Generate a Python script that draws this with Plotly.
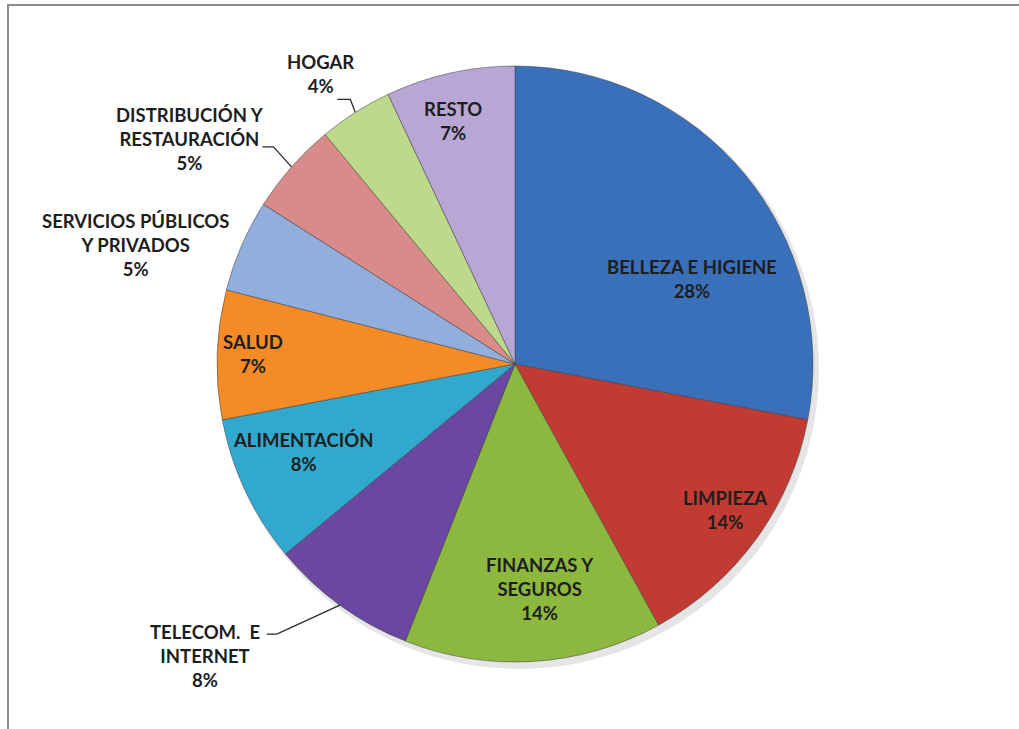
import math
import plotly.graph_objects as go

# ---- data ----
categories = [
    "BELLEZA E HIGIENE",
    "LIMPIEZA",
    "FINANZAS Y<br>SEGUROS",
    "TELECOM.  E<br>INTERNET",
    "ALIMENTACIÓN",
    "SALUD",
    "SERVICIOS PÚBLICOS<br>Y PRIVADOS",
    "DISTRIBUCIÓN Y<br>RESTAURACIÓN",
    "HOGAR",
    "RESTO",
]
shares = [28, 14, 14, 8, 8, 7, 5, 5, 4, 7]

# ---- styles / layout ----
colors = [
    "#3A70BA", "#C23B33", "#8DB83F", "#6A47A1", "#31A9CF",
    "#F58B27", "#91AEDC", "#D98B8A", "#BED88C", "#B8A7D4",
]
W, H = 1019, 729
cx, cy, r = 515, 364, 298
FONT = dict(family="Lato", size=18.5, color="#1E1E1E", weight="bold")

# inside labels: (radial fraction, angle adjustment in degrees)
inside_place = {
    0: (0.66, 14.0),
    1: (0.86, -1.2),
    2: (0.76, -2.7),
    4: (0.77, 2.6),
    5: (0.88, 0.4),
    9: (0.84, -1.7),
}
# outside labels: offsets (px) from the rim point: label centre, elbow, line end
outside_place = {
    3: dict(label=(-135, 51), elbow=(-63, 29), end=(-73, 29)),
    6: dict(label=(-106, -1), elbow=None, end=None),
    7: dict(label=(-101, -28), elbow=(-18, -20), end=(-29, -20)),
    8: dict(label=(-35, -38), elbow=(-5, -13), end=(-18, -13)),
}


def px_to_paper(x, y):
    return x / W, 1 - y / H


def polar(theta_deg, rho):
    t = math.radians(theta_deg)
    return cx + rho * math.sin(t), cy - rho * math.cos(t)


total = sum(shares)
fig = go.Figure(
    go.Pie(
        labels=categories,
        values=shares,
        sort=False,
        direction="clockwise",
        rotation=0,
        marker=dict(colors=colors, line=dict(color="rgba(60,60,60,0.5)", width=1)),
        textinfo="none",
        hoverinfo="label+percent",
        showlegend=False,
        domain=dict(
            x=[(cx - r) / W, (cx + r) / W],
            y=[1 - (cy + r) / H, 1 - (cy - r) / H],
        ),
    )
)

annotations = []
shapes = [
    dict(
        type="rect", xref="paper", yref="paper",
        x0=8 / W, x1=1.05, y0=-0.05, y1=1 - 5 / H,
        line=dict(color="#8C8C8C", width=2),
        fillcolor="rgba(0,0,0,0)", layer="below",
    ),
    # soft drop shadow under the pie
    dict(
        type="circle", xref="paper", yref="paper",
        x0=(cx - r + 2) / W, x1=(cx + r + 6) / W,
        y0=1 - (cy + r + 7) / H, y1=1 - (cy - r + 3) / H,
        line=dict(width=0), fillcolor="rgba(0,0,0,0.10)", layer="below",
    ),
]

cum = 0
for i, (lab, v) in enumerate(zip(categories, shares)):
    mid = 360.0 * (cum + v / 2) / total
    cum += v
    text = f"{lab}<br>{round(100 * v / total)}%"
    if i in inside_place:
        f, dth = inside_place[i]
        x, y = polar(mid + dth, f * r)
    else:
        p = outside_place[i]
        rx, ry = polar(mid, r)
        x, y = rx + p["label"][0], ry + p["label"][1]
        if p["elbow"] is not None:
            pts = [(rx, ry),
                   (rx + p["elbow"][0], ry + p["elbow"][1]),
                   (rx + p["end"][0], ry + p["end"][1])]
            path = "M " + " L ".join(
                f"{px_to_paper(a, b)[0]:.5f},{px_to_paper(a, b)[1]:.5f}" for a, b in pts
            )
            shapes.append(dict(type="path", xref="paper", yref="paper", path=path,
                               line=dict(color="#2A2A2A", width=1.3)))
    X, Y = px_to_paper(x, y)
    annotations.append(dict(
        x=X, y=Y, xref="paper", yref="paper", text=text, showarrow=False,
        font=FONT, align="center", xanchor="center", yanchor="middle",
    ))

fig.update_layout(
    width=W,
    height=H,
    margin=dict(l=0, r=0, t=0, b=0),
    paper_bgcolor="white",
    annotations=annotations,
    shapes=shapes,
)

fig.write_html(
    "out.html",
    config={"displayModeBar": False},
    post_script="document.body.style.margin='0';document.body.style.overflow='hidden';",
)
